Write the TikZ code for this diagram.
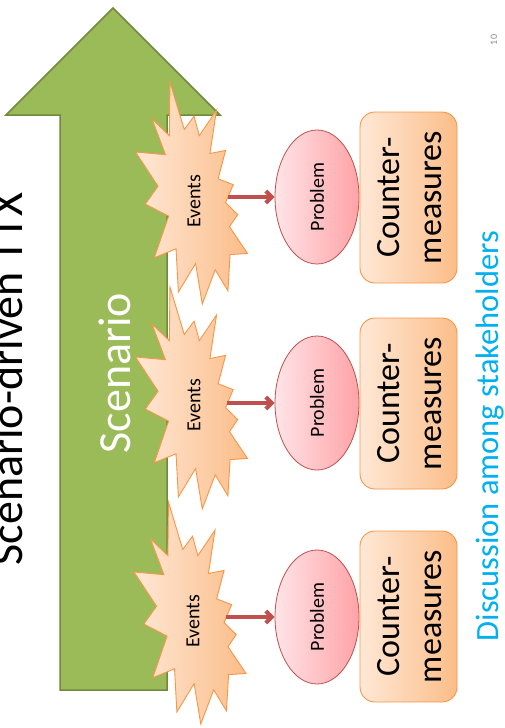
\documentclass[tikz,border=0pt]{standalone}
\usepackage{fontspec}
\setmainfont{Carlito}
\usepackage{graphicx}
\usetikzlibrary{arrows.meta,shapes.geometric}
\definecolor{arrowgreen}{HTML}{9BBB59}
\definecolor{arrowedge}{HTML}{71893F}
\definecolor{orangeedge}{HTML}{F79646}
\definecolor{peachL}{HTML}{FFE8D6}
\definecolor{peachR}{HTML}{FBBD89}
\definecolor{pinkL}{HTML}{FFE4E7}
\definecolor{pinkR}{HTML}{FFA3A7}
\definecolor{redline}{HTML}{C0504D}
\definecolor{discblue}{HTML}{00B0F0}
\definecolor{pagegray}{HTML}{8C8C8C}
\tikzset{
  burststyle/.style={left color=peachL, right color=peachR, draw=orangeedge, line width=0.9pt, line join=miter},
  evtext/.style={inner sep=0pt, font=\fontsize{20}{24}\selectfont},
  probnode/.style={ellipse, minimum width=84pt, minimum height=134pt, inner sep=0pt,
    draw=redline, line width=0.8pt, left color=pinkL, right color=pinkR, font=\fontsize{20}{24}\selectfont},
  cmnode/.style={rectangle, rounded corners=15pt, minimum width=97pt, minimum height=171pt, inner sep=0pt,
    draw=orangeedge, line width=0.9pt, left color=peachL, right color=peachR, font=\fontsize{34}{42}\selectfont},
  linkarrow/.style={draw=redline, line width=4pt, -{Straight Barb[length=6pt,width=12pt]}},
}
\newcommand\burstshape[2]{%
  \begin{scope}[shift={(#1,{#2+222})}, x={(0pt,102.78pt)}, y={(51.85pt,0pt)}]
    \draw[burststyle] (1.1462,0.4342) -- (1.4790,0) -- (1.4525,0.5777) -- (1.8007,0.3172)
      -- (1.6380,0.6532) -- (2.1600,0.6645) -- (1.6985,0.9402) -- (1.8270,1.1290)
      -- (1.6380,1.2310) -- (1.8877,1.5632) -- (1.4640,1.4350) -- (1.4942,1.7370)
      -- (1.2180,1.5935) -- (1.1612,1.8842) -- (0.9872,1.7370) -- (0.8700,1.9712)
      -- (0.7527,1.8125) -- (0.4917,2.1600) -- (0.4805,1.8240) -- (0.1285,1.7825)
      -- (0.3330,1.5370) -- (0,1.2877) -- (0.3935,1.1592) -- (0.1172,0.8270)
      -- (0.5372,0.7817) -- (0.4502,0.3625) -- (0.8550,0.6382) -- (0.9722,0.1887) -- cycle;
  \end{scope}}
\newcommand\cmtext{\rotatebox{90}{\raisebox{-4pt}[\height][\depth]{\begin{tabular}{@{}c@{}}Counter-\\measures\end{tabular}}}}
\begin{document}
\begin{tikzpicture}[x=1pt,y=-1pt]
\useasboundingbox (0,0) rectangle (504,728);
% big green arrow
\draw[fill=arrowgreen, draw=arrowedge, line width=1.5pt, line join=miter]
  (113,8) -- (220,115) -- (167,115) -- (167,690) -- (60,690) -- (60,115) -- (6,115) -- cycle;
\node[rotate=90, anchor=base, text=white, inner sep=0pt, font=\fontsize{46}{55}\selectfont] (scen) at (130,373) {Scenario};
% title
\node[rotate=90, anchor=base, inner sep=0pt, font=\fontsize{46}{55}\selectfont] (title) at (23,379) {Scenario-driven TTX};
% bursts
\burstshape{135.5}{82}
\burstshape{135.5}{287}
\burstshape{134}{502}
\node[evtext] (ev1) at (194,201.5) {\rotatebox{90}{Events}};
\node[evtext] (ev2) at (194,405.5) {\rotatebox{90}{Events}};
\node[evtext] (ev3) at (193,621.5) {\rotatebox{90}{Events}};
\coordinate (e1) at (228,197);
\coordinate (e2) at (227,403);
\coordinate (e3) at (226,617);
% problems
\node[probnode] (pb1) at (317,197) {\rotatebox{90}{Problem}};
\node[probnode] (pb2) at (317,403) {\rotatebox{90}{Problem}};
\node[probnode] (pb3) at (317,617) {\rotatebox{90}{Problem}};
% countermeasures
\node[cmnode] (cm1) at (408.5,197.5) {\cmtext};
\node[cmnode] (cm2) at (408.5,403.5) {\cmtext};
\node[cmnode] (cm3) at (408.5,616.5) {\cmtext};
% arrows
\draw[linkarrow] (e1) -- (pb1.west);
\draw[linkarrow] (e2) -- (pb2.west);
\draw[linkarrow] (e3) -- (pb3.west);
% discussion
\node[rotate=90, anchor=base, inner sep=0pt, text=discblue, font=\fontsize{32.5}{39}\selectfont] (disc) at (498,436) {Discussion among stakeholders};
\node[rotate=90, anchor=base, inner sep=0pt, text=pagegray, font=\fontsize{10}{12}\selectfont] (pg) at (497,40) {10};
\end{tikzpicture}
\end{document}
